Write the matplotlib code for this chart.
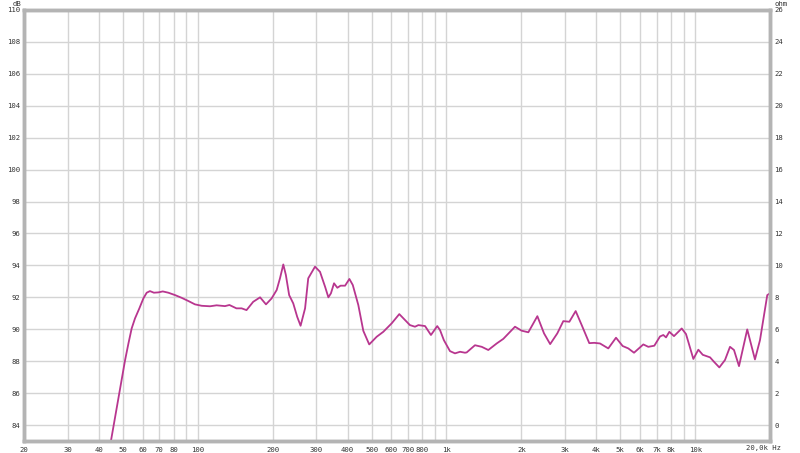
import matplotlib
matplotlib.use("Agg")
import matplotlib.pyplot as plt
from matplotlib.ticker import FixedLocator, NullLocator

# ---- data ----
freq_hz = [44.8, 51, 52.6, 54.2, 55.9, 58.2, 60.4, 62.3, 64.2, 66.6, 69.4, 72.3, 76.1, 81,
           86.1, 91.6, 97.4, 103.7, 112, 119, 128.6, 134, 143, 150, 157, 167, 178, 188, 198,
           207.6, 214, 220.7, 226, 233, 242, 251, 259, 270, 278, 296, 310, 325, 335, 343,
           353, 364, 375, 391, 407, 420, 442, 463, 489, 524, 557, 602, 646, 681, 713, 747,
           771, 820, 866, 918, 942, 976, 1033, 1082, 1134, 1187, 1206, 1302, 1386, 1473,
           1592, 1693, 1886, 2006, 2134, 2320, 2468, 2612, 2790, 2950, 3120, 3308, 3498,
           3752, 3930, 4144, 4474, 4806, 5111, 5384, 5678, 6188, 6480, 6852, 7224, 7448,
           7637, 7874, 8222, 8830, 9188, 9536, 9835, 10300, 10730, 11480, 11910, 12510,
           13180, 13810, 14330, 15010, 16200, 17400, 18230, 19500, 20000]
spl_db = [83.06, 88.07, 89.11, 90.05, 90.68, 91.31, 91.93, 92.29, 92.39, 92.29, 92.31, 92.37,
          92.29, 92.14, 91.97, 91.77, 91.56, 91.47, 91.44, 91.50, 91.45, 91.52, 91.31, 91.31,
          91.2, 91.72, 92.0, 91.56, 91.93, 92.46, 93.19, 94.06, 93.40, 92.14, 91.62, 90.78,
          90.22, 91.31, 93.19, 93.92, 93.6, 92.66, 92.0, 92.25, 92.88, 92.60, 92.73, 92.73,
          93.15, 92.77, 91.52, 89.9, 89.05, 89.53, 89.84, 90.37, 90.95, 90.58, 90.26, 90.16,
          90.26, 90.2, 89.64, 90.2, 89.95, 89.32, 88.63, 88.49, 88.59, 88.53, 88.55, 89.0,
          88.9, 88.7, 89.11, 89.4, 90.16, 89.91, 89.81, 90.82, 89.74, 89.07, 89.74, 90.51,
          90.47, 91.14, 90.26, 89.13, 89.15, 89.11, 88.80, 89.47, 88.95, 88.8, 88.53, 89.05,
          88.9, 88.97, 89.55, 89.64, 89.49, 89.84, 89.57, 90.05, 89.7, 88.85, 88.14, 88.72,
          88.4, 88.24, 87.96, 87.61, 88.07, 88.9, 88.7, 87.69, 89.99, 88.11, 89.32, 92.14,
          92.25]

x_ticks = [20, 30, 40, 50, 60, 70, 80, 100, 200, 300, 400, 500, 600, 700, 800,
           1000, 2000, 3000, 4000, 5000, 6000, 7000, 8000, 10000]
x_tick_labels = ["20", "30", "40", "50", "60", "70", "80", "100", "200", "300", "400",
                 "500", "600", "700", "800", "1k", "2k", "3k", "4k", "5k", "6k", "7k",
                 "8k", "10k"]
x_grid = [30, 40, 50, 60, 70, 80, 90, 100, 200, 300, 400, 500, 600, 700, 800, 900,
          1000, 2000, 3000, 4000, 5000, 6000, 7000, 8000, 9000, 10000]
db_ticks = list(range(84, 111, 2))
ohm_ticks = list(range(0, 27, 2))

W, H = 800, 453
fig = plt.figure(figsize=(W / 100, H / 100), dpi=100)
L, R, T, B = 24, 770, 10, 441
ax = fig.add_axes([L / W, 1 - B / H, (R - L) / W, (B - T) / H])

grid_c = "#d4d4d4"
ax.set_xscale("log")
ax.set_xlim(20, 20000)
ax.set_ylim(83, 110)
for g in x_grid:
    ax.axvline(g, color=grid_c, lw=1.0, zorder=1)
for d in db_ticks:
    ax.axhline(d, color=grid_c, lw=1.0, zorder=1)

ax.plot(freq_hz, spl_db, color="#b8368f", lw=1.3, zorder=3,
        solid_joinstyle="round", solid_capstyle="round")

font = dict(family="DejaVu Sans Mono", size=5.2, color="#333333")
ax.xaxis.set_major_locator(FixedLocator(x_ticks))
ax.xaxis.set_minor_locator(NullLocator())
ax.set_xticklabels(x_tick_labels, **font)
ax.set_yticks(db_ticks)
ax.set_yticklabels([str(d) for d in db_ticks], **font)
ax.tick_params(axis="both", length=0, pad=3)
ax.tick_params(axis="x", pad=4)

ax2 = ax.twinx()
ax2.set_ylim(-1, 26)
ax2.set_yticks(ohm_ticks)
ax2.set_yticklabels([str(o) for o in ohm_ticks], **font)
ax2.tick_params(axis="y", length=0, pad=3)

for a in (ax, ax2):
    for s in a.spines.values():
        s.set_color("#b4b4b4")
        s.set_linewidth(2.5)

fig.text(763 / W, 1 - 448 / H, "20,0k Hz", ha="center", va="center", **font)
fig.text(17 / W, 1 - 4 / H, "dB", ha="center", va="center", **font)
fig.text(781 / W, 1 - 4 / H, "ohm", ha="center", va="center", **font)

fig.savefig("out.png", dpi=100, facecolor="white")
